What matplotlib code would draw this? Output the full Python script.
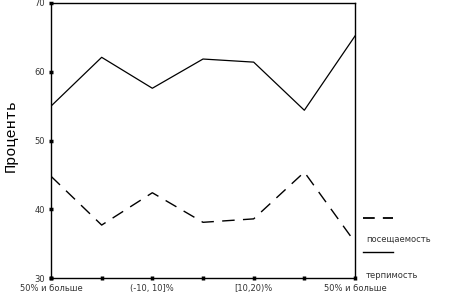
import matplotlib
matplotlib.use("Agg")
import matplotlib.pyplot as plt
from matplotlib.lines import Line2D

categories = ["50% и больше", "", "(-10, 10]%", "", "[10,20)%", "", "50% и больше"]
attendance = [44.8, 37.7, 42.4, 38.1, 38.6, 45.4, 35.2]
tolerance = [55.0, 62.1, 57.6, 61.85, 61.4, 54.4, 65.2]
series_names = ["посещаемость", "терпимость"]
y_ticks = [30, 40, 50, 60, 70]

fig = plt.figure(figsize=(4.72, 2.97), dpi=100)
ax = fig.add_axes([51 / 472, 19 / 297, 304 / 472, 275 / 297])

x = list(range(len(categories)))
ax.plot(x, attendance, color="black", lw=1.0, dashes=(9, 6))
ax.plot(x, tolerance, color="black", lw=0.9)

ax.set_xlim(0, len(categories) - 1)
ax.set_ylim(30, 70)
ax.set_xticks(x)
ax.set_xticklabels(categories, fontsize=6, color="#333333")
ax.set_yticks(y_ticks)
ax.set_yticklabels([str(v) for v in y_ticks], fontsize=6, color="#333333")
ax.tick_params(direction="inout", length=2.5, width=2.5, pad=3)
for s in ax.spines.values():
    s.set_linewidth(1.0)
ax.set_ylabel("Проценть", fontsize=11, family="Liberation Mono")
ax.yaxis.set_label_coords(-33 / 304, 0.52)

# legend drawn by hand: line sample above its label
fig.add_artist(Line2D([363 / 472, 393 / 472], [1 - 218 / 297, 1 - 218 / 297],
                      color="black", lw=1.3, dashes=(6.5, 4.5)))
fig.text(366 / 472, 1 - 239 / 297, series_names[0], fontsize=6, color="#333333", va="center")
fig.add_artist(Line2D([363 / 472, 393 / 472], [1 - 252 / 297, 1 - 252 / 297],
                      color="black", lw=1.0))
fig.text(366 / 472, 1 - 275 / 297, series_names[1], fontsize=6, color="#333333", va="center")

fig.savefig("out.png", dpi=100)
